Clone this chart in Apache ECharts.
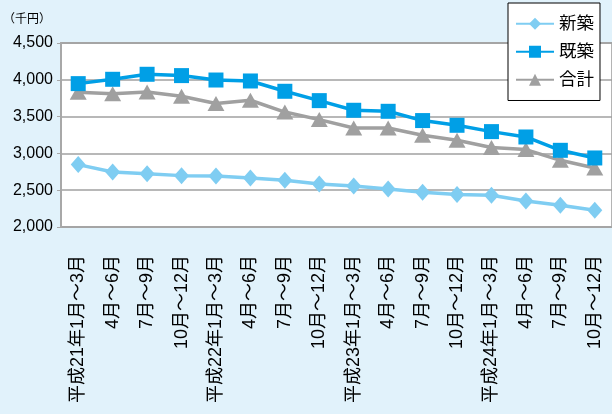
<!DOCTYPE html>
<html>
<head>
<meta charset="utf-8">
<script src="https://cdn.jsdelivr.net/npm/echarts@6/dist/echarts.min.js"></script>
<style>
  html, body { margin: 0; padding: 0; background: #e1f2fb; }
  #chart { width: 612px; height: 414px; }
</style>
</head>
<body>
<div id="chart"></div>
<script>
// Quarterly periods (平成21年〜平成24年)
const categories = [
  '平成21年1月～3月', '4月～6月', '7月～9月', '10月～12月',
  '平成22年1月～3月', '4月～6月', '7月～9月', '10月～12月',
  '平成23年1月～3月', '4月～6月', '7月～9月', '10月～12月',
  '平成24年1月～3月', '4月～6月', '7月～9月', '10月～12月'
];

// Values in 千円
const shinchiku = [2848, 2747, 2725, 2698, 2693, 2666, 2634, 2584,
                   2557, 2516, 2471, 2440, 2431, 2353, 2295, 2227];
const kichiku   = [3948, 4007, 4075, 4057, 3997, 3984, 3844, 3717,
                   3586, 3572, 3446, 3382, 3296, 3223, 3042, 2938];
const goukei    = [3830, 3812, 3834, 3776, 3677, 3722, 3562, 3459,
                   3345, 3345, 3246, 3178, 3079, 3052, 2906, 2802];

const yTicks = [2000, 2500, 3000, 3500, 4000, 4500];

const FONT = '"Liberation Sans", "Noto Sans CJK JP", sans-serif';

const chart = echarts.init(document.getElementById('chart'), null, { renderer: 'canvas' });

chart.setOption({
  backgroundColor: '#e1f2fb',
  animation: false,
  textStyle: { fontFamily: FONT, color: '#000' },
  title: {
    text: '（千円）',
    left: -2,
    top: 9,
    textStyle: { fontSize: 12, fontWeight: 'normal', color: '#000', fontFamily: FONT }
  },
  legend: {
    orient: 'vertical',
    left: 508,
    top: 3,
    width: 91,
    padding: [12, 6, 12, 7],
    itemGap: 10.5,
    itemWidth: 38,
    itemHeight: 15,
    backgroundColor: '#ffffff',
    borderColor: '#000000',
    borderWidth: 1,
    textStyle: { fontSize: 17.5, color: '#000', fontFamily: FONT },
    data: ['新築', '既築', '合計']
  },
  grid: {
    left: 61,
    top: 43,
    width: 560,
    height: 184,
    show: true,
    backgroundColor: '#ffffff',
    borderColor: '#b4b4b4',
    borderWidth: 2
  },
  xAxis: {
    type: 'category',
    data: categories,
    boundaryGap: true,
    axisLine: { show: false },
    axisTick: { show: false },
    axisLabel: {
      rotate: 90,
      interval: 0,
      margin: 28,
      fontSize: 18,
      color: '#000',
      fontFamily: FONT
    }
  },
  yAxis: {
    type: 'value',
    min: yTicks[0],
    max: yTicks[yTicks.length - 1],
    interval: 500,
    axisLine: { show: true, lineStyle: { color: '#a8a8a8', width: 2 } },
    axisTick: { show: true, length: 4, lineStyle: { color: '#a8a8a8', width: 1 } },
    splitLine: { show: true, lineStyle: { color: '#a0a0a0', width: 1.5 } },
    axisLabel: {
      margin: 8,
      fontSize: 16,
      color: '#000',
      fontFamily: FONT,
      formatter: v => v.toLocaleString('en-US')
    }
  },
  series: [
    {
      name: '新築',
      type: 'line',
      data: shinchiku,
      symbol: 'diamond',
      symbolSize: [15, 17],
      color: '#7fcdf2',
      lineStyle: { width: 3.5, color: '#7fcdf2' },
      itemStyle: { color: '#7fcdf2' },
      z: 3
    },
    {
      name: '合計',
      type: 'line',
      data: goukei,
      symbol: 'triangle',
      symbolSize: [17, 15],
      color: '#a0a0a0',
      lineStyle: { width: 3.5, color: '#a0a0a0' },
      itemStyle: { color: '#a0a0a0' },
      z: 3
    },
    {
      name: '既築',
      type: 'line',
      data: kichiku,
      symbol: 'rect',
      symbolSize: 15,
      color: '#009fe6',
      lineStyle: { width: 3.5, color: '#009fe6' },
      itemStyle: { color: '#009fe6' },
      z: 4
    }
  ]
});
</script>
</body>
</html>
